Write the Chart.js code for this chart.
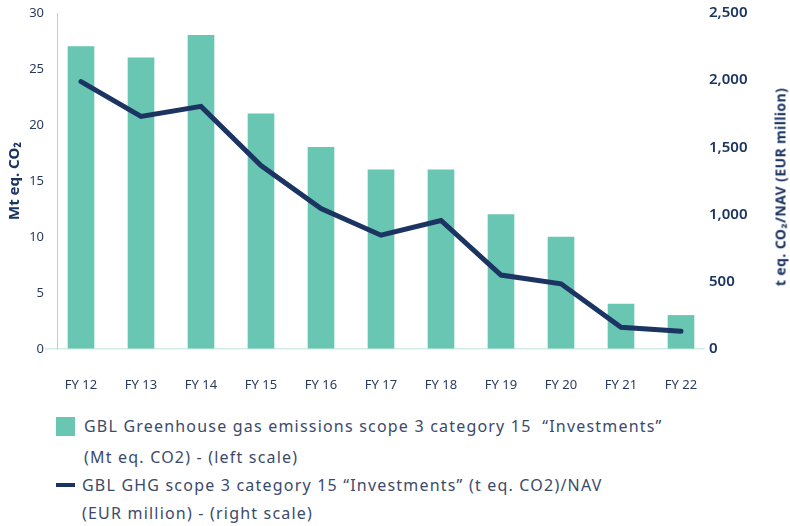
<!DOCTYPE html>
<html>
<head>
<meta charset="utf-8">
<script src="https://cdn.jsdelivr.net/npm/chart.js@4.4.1/dist/chart.umd.min.js"></script>
<style>
  body { margin: 0; background: #ffffff; width: 790px; height: 526px; overflow: hidden; position: relative; font-family: "Noto Sans", sans-serif; }
  #wrap { position: absolute; left: 0; top: 0; width: 790px; height: 400px; }
  .leg { position: absolute; color: #3b4a6b; font-size: 16px; letter-spacing: 1.2px; white-space: nowrap; line-height: 20px; }
  .sw { position: absolute; }
  #rtitle { position: absolute; left: 780px; top: 187px; transform: translate(-50%, -50%) rotate(-90deg);
            white-space: nowrap; color: #1b3461; font-weight: bold; font-size: 14px; letter-spacing: 0.4px; }
</style>
</head>
<body>
<div id="wrap"><canvas id="chart" width="790" height="400"></canvas></div>
<div id="rtitle">t eq. CO₂/NAV (EUR million)</div>

<div class="sw" style="left:56px;top:417px;width:19px;height:19px;background:#68c6b3;"></div>
<div class="leg" style="left:84px;top:416px;">GBL Greenhouse gas emissions scope 3 category 15&nbsp; “Investments”</div>
<div class="leg" style="left:84px;top:447px;">(Mt eq. CO2) - (left scale)</div>
<div class="sw" style="left:56px;top:483px;width:19px;height:4px;background:#1b3461;"></div>
<div class="leg" style="left:82px;top:475px;">GBL GHG scope 3 category 15 “Investments” (t eq. CO2)/NAV</div>
<div class="leg" style="left:82px;top:503px;">(EUR million) - (right scale)</div>

<script>
// Données
const years = ['FY 12', 'FY 13', 'FY 14', 'FY 15', 'FY 16', 'FY 17', 'FY 18', 'FY 19', 'FY 20', 'FY 21', 'FY 22'];
const emissionsMt = [27, 26, 28, 21, 18, 16, 16, 12, 10, 4, 3];
const intensityNav = [1990, 1730, 1805, 1365, 1045, 847, 956, 550, 485, 162, 132];
const leftTicks = [0, 5, 10, 15, 20, 25, 30];
const rightTicks = [0, 500, 1000, 1500, 2000, 2500];

const navy = '#1b3461';
const textColor = '#2a3b62';
const fontFamily = '"Noto Sans", sans-serif';

const chart = new Chart(document.getElementById('chart'), {
    data: {
        datasets: [
            {
                type: 'line',
                data: intensityNav.map((v, i) => ({ x: i, y: v })),
                yAxisID: 'y1',
                borderColor: navy,
                borderWidth: 5,
                borderCapStyle: 'round',
                borderJoinStyle: 'miter',
                pointRadius: 0,
                tension: 0,
                order: 0
            },
            {
                type: 'bar',
                data: emissionsMt.map((v, i) => ({ x: i, y: v })),
                yAxisID: 'y',
                backgroundColor: '#68c6b3',
                barThickness: 26,
                order: 1
            }
        ]
    },
    options: {
        responsive: false,
        animation: false,
        layout: { padding: { top: 13, left: 0, right: 0, bottom: 0 } },
        plugins: { legend: { display: false }, tooltip: { enabled: false } },
        scales: {
            x: {
                type: 'linear',
                offset: false,
                min: -0.4,
                max: 10.4,
                afterBuildTicks: (s) => { s.ticks = years.map((_, i) => ({ value: i })); },
                afterFit: (s) => { s.height = 51; },
                grid: { display: false },
                border: { display: false },
                ticks: {
                    padding: 20,
                    maxRotation: 0,
                    autoSkip: false,
                    color: textColor,
                    font: { family: fontFamily, size: 13 },
                    callback: (v) => years[v]
                }
            },
            y: {
                position: 'left',
                min: 0,
                max: 30,
                afterBuildTicks: (s) => { s.ticks = leftTicks.map(v => ({ value: v })); },
                afterFit: (s) => { s.width = 57; },
                grid: {
                    drawOnChartArea: true,
                    tickLength: 12,
                    color: (ctx) => ctx.tick && ctx.tick.value === 0 ? '#d3ece6' : 'rgba(0,0,0,0)',
                    lineWidth: 1.5
                },
                border: { display: true, color: '#c4c9d5', width: 1 },
                ticks: {
                    padding: 1,
                    color: textColor,
                    font: { family: fontFamily, size: 13 }
                },
                title: {
                    display: true,
                    text: 'Mt eq. CO₂',
                    color: navy,
                    font: { family: fontFamily, size: 15, weight: 'bold' },
                    padding: { top: 6, bottom: 0 }
                }
            },
            y1: {
                position: 'right',
                min: 0,
                max: 2500,
                afterBuildTicks: (s) => { s.ticks = rightTicks.map(v => ({ value: v })); },
                afterFit: (s) => { s.width = 85; },
                grid: { display: false, drawOnChartArea: false, drawTicks: false },
                border: { display: false },
                ticks: {
                    padding: 4,
                    color: navy,
                    font: { family: fontFamily, size: 15, weight: '600' },
                    callback: (v) => v.toLocaleString('en-US')
                }
            }
        }
    }
});
</script>
</body>
</html>
